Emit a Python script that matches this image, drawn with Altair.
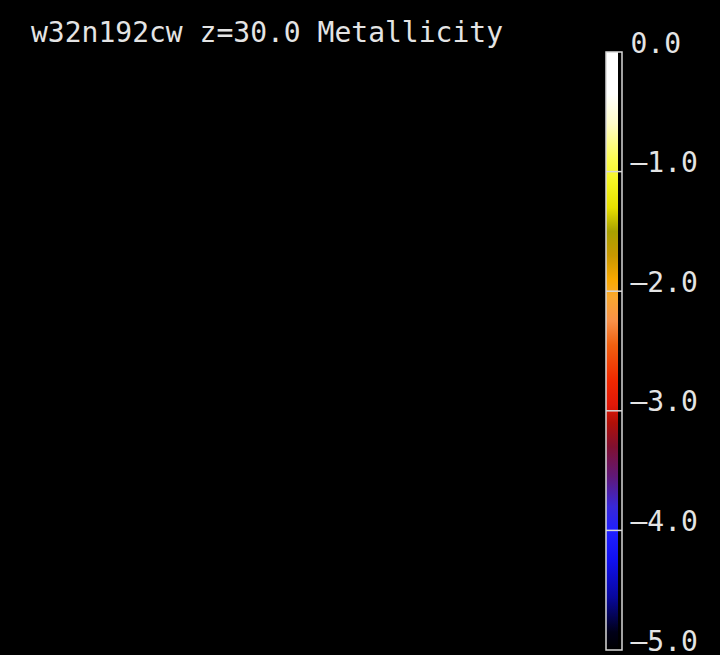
import altair as alt
import pandas as pd

# ---- chart content -------------------------------------------------------
TITLE = "w32n192cw z=30.0 Metallicity"

# colour bar range (log metallicity) and its labelled ticks
BAR_RANGE = [-5.0, 0.0]
TICK_VALUES = [0.0, -1.0, -2.0, -3.0, -4.0, -5.0]
INNER_TICKS = [-1.0, -2.0, -3.0, -4.0]

# colour table: metallicity level -> colour
METAL_LEVELS = [-5.0, -4.85, -4.55, -4.25, -4.0, -3.8, -3.55, -3.3, -3.1,
                -2.95, -2.75, -2.45, -2.25, -2.05, -1.9, -1.7, -1.5, -1.3,
                -1.1, -0.9, -0.6, -0.35, 0.0]
METAL_COLORS = ["#000000", "#000018", "#0808a0", "#1010f0", "#2020ff",
                "#3828d8", "#601878", "#801030", "#b01008", "#e01808",
                "#f02800", "#f06010", "#f89048", "#f8a830", "#f8a800",
                "#c89800", "#a8a000", "#e8e000", "#f4f420", "#fcfc50",
                "#fffcc8", "#ffffff", "#ffffff"]

# ---- styling --------------------------------------------------------------
FONT = "DejaVu Sans Mono"
TEXT_COLOR = "#e4e4e4"
FRAME_COLOR = "#d8d8d8"

lo, hi = BAR_RANGE
stops = [alt.GradientStop(offset=(lv - lo) / (hi - lo), color=c)
         for lv, c in zip(METAL_LEVELS, METAL_COLORS)]
gradient = alt.LinearGradient(gradient="linear", stops=stops,
                              x1=0, x2=0, y1=1, y2=0)

bar_df = pd.DataFrame({"lo": [lo], "hi": [hi]})
tick_df = pd.DataFrame({"t": INNER_TICKS})
yscale = alt.Scale(domain=[lo, hi], nice=False, zero=False)

label_expr = ("datum.value == 0 ? '0.0' : "
              "'\u2014' + format(abs(datum.value), '.1f')")

fill = alt.Chart(bar_df).mark_rect(
    color=gradient, xOffset=-4, x2Offset=-3
).encode(
    y=alt.Y("lo:Q", scale=yscale, title=None,
            axis=alt.Axis(orient="right", values=TICK_VALUES, domain=False,
                          ticks=False, grid=False, labelExpr=label_expr,
                          labelBaseline="alphabetic", labelAlign="left",
                          labelPadding=8, labelFlush=False,
                          labelOverlap=False, labelBound=False)),
    y2="hi:Q",
)

inner = alt.Chart(tick_df).mark_rule(color=FRAME_COLOR, strokeWidth=1.5).encode(
    y=alt.Y("t:Q", scale=yscale)
)

frame = alt.Chart(bar_df).mark_rect(
    filled=False, stroke=FRAME_COLOR, strokeWidth=1.5
).encode(y=alt.Y("lo:Q", scale=yscale), y2="hi:Q")

chart = alt.layer(fill, inner, frame).properties(
    width=16,
    height=598,
    title=alt.TitleParams(TITLE, anchor="start", frame="group", dx=-575,
                          dy=40, offset=0, baseline="alphabetic"),
    background="black",
    padding={"left": 606, "top": 52, "right": 98, "bottom": 5},
    autosize=alt.AutoSizeParams(type="none"),
).configure_view(
    stroke=None
).configure_axis(
    labelFont=FONT, labelFontSize=28, labelColor=TEXT_COLOR
).configure_title(
    font=FONT, fontSize=28, fontWeight="normal", color=TEXT_COLOR
)

chart.save("out.html", embed_options={"renderer": "svg", "actions": False})
